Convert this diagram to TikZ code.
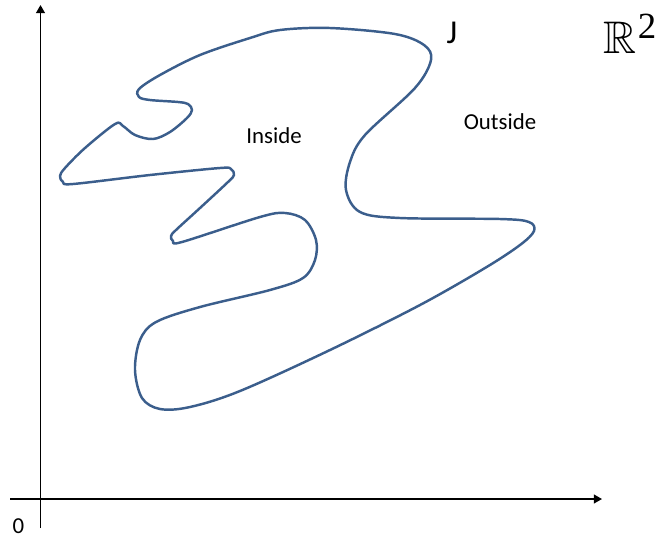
\documentclass[tikz,border=0pt]{standalone}
\usepackage{fontspec}
\usepackage{amssymb}
\usetikzlibrary{arrows.meta}
\setmainfont{Carlito}
\newfontfamily\serifnum{Liberation Serif}
\definecolor{curveblue}{HTML}{3B5E8C}
\tikzset{
  axis/.style={line width=0.85pt, black, -{Triangle[length=4.6pt,width=5pt]}},
  jordan/.style={line width=1.4pt, curveblue, line join=round},
  lbl/.style={inner sep=0pt, font=\fontsize{13}{15}\selectfont}
}
\begin{document}
\begin{tikzpicture}[x=0.02cm,y=-0.02cm]
\useasboundingbox (0,0) rectangle (658,538);
% axes
\coordinate (ybot) at (40.5,528);
\coordinate (ytop) at (40.5,5);
\coordinate (xleft) at (10,499);
\coordinate (xright) at (602,499);
\draw[axis] (ybot) -- (ytop);
\draw[axis] (xleft) -- (xright);
% Jordan curve
\draw[jordan] plot[smooth cycle, tension=0.55] coordinates {
(330,28) (395,34) (424,45) (431,60) (415,88) (365,135) (350,162) (346,190)
(360,212) (400,218) (500,219) (529,222) (534,231) (520,245) (485,268)
(420,305) (330,350) (240,391) (190,407) (160,409) (142,398) (135,370)
(140,340) (156,322) (200,307) (270,290) (303,278) (315,260) (316,240)
(305,220) (285,213) (260,217) (182,242) (173,241) (171,236) (176,230) (200,208)
(228,182) (234,175) (231,169) (220,168) (150,175) (73,184) (63,182) (60,176) (65,168)
(85,148) (115,124) (123,126) (135,135) (153,139) (170,132) (187,118)
(192,110) (188,104) (178,102) (150,100) (139,97) (139,89) (160,75) (200,55)
(250,38) (280,30)};
% labels
\node[lbl] (inside) at (274,136) {Inside};
\node[lbl] (outside) at (500,122) {Outside};
\node[lbl] (zero) at (18.5,526) {0};
\node[inner sep=0pt, font=\fontsize{19}{21}\selectfont] (J) at (452,33) {J};
\node[inner sep=0pt, font=\fontsize{26}{30}\selectfont, anchor=base] (R) at (620,53) {$\mathbb{R}$};
\node[inner sep=0pt, font=\fontsize{21}{24}\selectfont\serifnum, anchor=base] (two) at (647,38) {2};
\end{tikzpicture}
\end{document}
